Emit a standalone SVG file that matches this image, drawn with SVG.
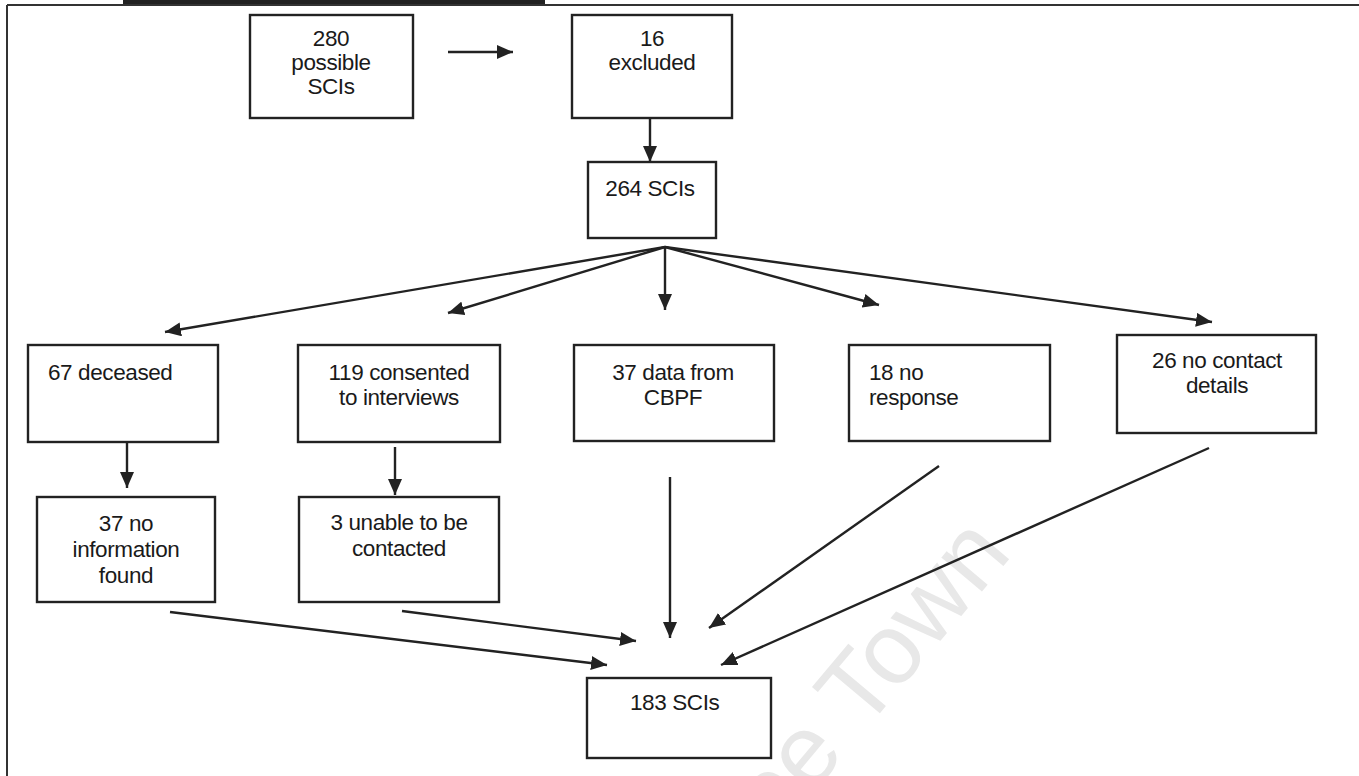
<svg xmlns="http://www.w3.org/2000/svg" width="1359" height="776" viewBox="0 0 1359 776">
<style>
.box{fill:#fff;stroke:#222;stroke-width:2.4}
.t{font-family:"Liberation Sans",Arial,sans-serif;font-size:22.5px;fill:#1a1a1a;letter-spacing:-0.4px}
.c{text-anchor:middle}
.ln{stroke:#222;stroke-width:2.4;fill:none;marker-end:url(#ah)}
.wm{font-family:"Liberation Sans",Arial,sans-serif;font-size:100px;fill:#e8e8e8}
</style>
<defs>
<marker id="ah" markerUnits="userSpaceOnUse" markerWidth="18" markerHeight="14" refX="16" refY="7" orient="auto">
<path d="M0,0 L16,7 L0,14 Z" fill="#222"/>
</marker>
</defs>
<rect width="1359" height="776" fill="#fff"/>
<text class="wm" transform="translate(775,838) rotate(-50)">pe Town</text>
<g id="frame">
<rect x="123" y="0" width="422" height="5" fill="#222"/>
<line x1="7" y1="5" x2="1359" y2="5" stroke="#333" stroke-width="2"/>
<line x1="7" y1="5" x2="7" y2="776" stroke="#333" stroke-width="2"/>
</g>
<g id="n280"><rect class="box" x="250" y="15" width="163" height="103"/>
<text class="t c" x="331" y="46">280</text><text class="t c" x="331" y="70">possible</text><text class="t c" x="331" y="94">SCIs</text></g>
<g id="n16"><rect class="box" x="572" y="15" width="160" height="103"/>
<text class="t c" x="652" y="46">16</text><text class="t c" x="652" y="70">excluded</text></g>
<g id="n264"><rect class="box" x="588" y="162" width="128" height="76"/>
<text class="t c" x="650" y="196">264 SCIs</text></g>
<g id="n67"><rect class="box" x="28" y="345" width="190" height="97"/>
<text class="t" x="48" y="380">67 deceased</text></g>
<g id="n119"><rect class="box" x="298" y="345" width="202" height="97"/>
<text class="t c" x="399" y="380">119 consented</text><text class="t c" x="399" y="405">to interviews</text></g>
<g id="n37cbpf"><rect class="box" x="574" y="345" width="200" height="96"/>
<text class="t c" x="673" y="380">37 data from</text><text class="t c" x="673" y="405">CBPF</text></g>
<g id="n18"><rect class="box" x="849" y="345" width="201" height="96"/>
<text class="t" x="869" y="380">18 no</text><text class="t" x="869" y="405">response</text></g>
<g id="n26"><rect class="box" x="1117" y="335" width="199" height="98"/>
<text class="t c" x="1217" y="368">26 no contact</text><text class="t c" x="1217" y="393">details</text></g>
<g id="n37info"><rect class="box" x="37" y="497" width="178" height="105"/>
<text class="t c" x="126" y="531">37 no</text><text class="t c" x="126" y="557">information</text><text class="t c" x="126" y="583">found</text></g>
<g id="n3"><rect class="box" x="299" y="497" width="200" height="105"/>
<text class="t c" x="399" y="530">3 unable to be</text><text class="t c" x="399" y="556">contacted</text></g>
<g id="n183"><rect class="box" x="587" y="678" width="184" height="80"/>
<text class="t" x="630" y="710">183 SCIs</text></g>
<g id="connectors">
<line class="ln" x1="448" y1="52" x2="513" y2="52"/>
<line class="ln" x1="650" y1="118" x2="650" y2="162"/>
<line class="ln" x1="665" y1="247" x2="165" y2="332"/>
<line class="ln" x1="665" y1="247" x2="448" y2="313"/>
<line class="ln" x1="665" y1="247" x2="665" y2="310"/>
<line class="ln" x1="665" y1="247" x2="879" y2="305"/>
<line class="ln" x1="665" y1="247" x2="1212" y2="322"/>
<line class="ln" x1="127" y1="442" x2="127" y2="488"/>
<line class="ln" x1="395" y1="447" x2="395" y2="495"/>
<line class="ln" x1="670" y1="477" x2="670" y2="638"/>
<line class="ln" x1="170" y1="612" x2="607" y2="665"/>
<line class="ln" x1="402" y1="611" x2="636" y2="641"/>
<line class="ln" x1="939" y1="466" x2="709" y2="628"/>
<line class="ln" x1="1209" y1="448" x2="721" y2="665"/>
</g>
</svg>
